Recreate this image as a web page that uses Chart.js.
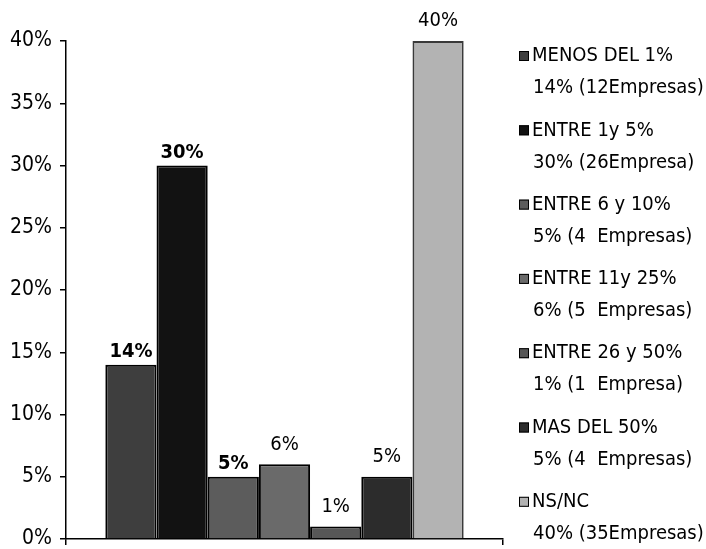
<!DOCTYPE html>
<html>
<head>
<meta charset="utf-8">
<script src="https://cdn.jsdelivr.net/npm/chart.js@4.4.0/dist/chart.umd.min.js"></script>
<style>
html,body{margin:0;padding:0;background:#fff;}
#wrap{width:706px;height:549px;position:relative;}
</style>
</head>
<body>
<div id="wrap"><canvas id="c" width="706" height="549"></canvas></div>
<script>
const categories = ["MENOS DEL 1%", "ENTRE 1y 5%", "ENTRE 6 y 10%", "ENTRE 11y 25%", "ENTRE 26 y 50%", "MAS DEL 50%", "NS/NC"];
const details = ["14% (12Empresas)", "30% (26Empresa)", "5% (4  Empresas)", "6% (5  Empresas)", "1% (1  Empresa)", "5% (4  Empresas)", "40% (35Empresas)"];
const values = [14, 30, 5, 6, 1, 5, 40];
const boldLabels = [true, true, true, false, false, false, false];
const yTicks = [0, 5, 10, 15, 20, 25, 30, 35, 40];
const colors = ["#3e3e3e", "#121212", "#5c5c5c", "#6a6a6a", "#575757", "#2c2c2c", "#b3b3b3"];

const FONT = '"Liberation Sans Narrow", "DejaVu Sans Condensed", "Arial Narrow", Arial, sans-serif';

const datasets = categories.map((c, i) => ({
  label: c,
  data: [values[i]],
  backgroundColor: colors[i],
  borderColor: i === 6 ? "#3a3a3a" : "#000",
  borderWidth: 2,
  borderSkipped: "bottom",
  barPercentage: 1,
  categoryPercentage: 0.82
}));

const labelPlugin = {
  id: "labels",
  afterDatasetsDraw(chart) {
    const ctx = chart.ctx;
    ctx.save();
    ctx.fillStyle = "#000";
    ctx.textAlign = "center";
    ctx.textBaseline = "middle";
    chart.data.datasets.forEach((ds, i) => {
      const bar = chart.getDatasetMeta(i).data[0];
      const b = boldLabels[i];
      ctx.font = (b ? "bold " : "") + "20px " + FONT;
      ctx.fillText(values[i] + "%", bar.x, bar.y - (b ? 13 : 20));
    });
    // legend
    const x0 = 519, y0 = 56, step = 74.3, lh = 32;
    ctx.textAlign = "left";
    chart.data.datasets.forEach((ds, i) => {
      const y = y0 + i * step;
      ctx.fillStyle = ds.backgroundColor;
      ctx.fillRect(x0, y - 5, 10, 10);
      ctx.strokeStyle = "#000";
      ctx.lineWidth = 1;
      ctx.strokeRect(x0 + 0.5, y - 4.5, 9, 9);
      ctx.fillStyle = "#000";
      ctx.font = "20px " + FONT;
      ctx.fillText(ds.label, x0 + 13, y);
      ctx.fillText(details[i], x0 + 14, y + lh);
    });
    ctx.restore();
  }
};

new Chart(document.getElementById("c"), {
  type: "bar",
  data: { labels: [""], datasets },
  options: {
    responsive: false,
    animation: false,
    devicePixelRatio: 1,
    layout: { padding: { top: 41, right: 203, bottom: 10, left: 0 } },
    plugins: { legend: { display: false }, tooltip: { enabled: false } },
    scales: {
      x: {
        offset: true,
        ticks: { display: false },
        grid: { drawOnChartArea: false, drawTicks: true, tickLength: 6, color: "#000", lineWidth: 1.5 },
        border: { display: true, color: "#000", width: 1.5 },
        afterFit(s) { s.height = 0; s.paddingLeft = 0; s.paddingRight = 0; s.paddingTop = 0; s.paddingBottom = 0; }
      },
      y: {
        min: 0, max: 40,
        afterBuildTicks(s) { s.ticks = yTicks.map(v => ({ value: v })); },
        ticks: { color: "#000", padding: 8, font: { family: FONT, size: 21 }, callback: v => v + "%" },
        grid: { drawOnChartArea: false, drawTicks: true, tickLength: 6, color: "#000", lineWidth: 1.5 },
        border: { display: true, color: "#000", width: 1.5 },
        afterFit(s) { s.width = 66; s.paddingTop = 0; s.paddingBottom = 0; }
      }
    }
  },
  plugins: [labelPlugin]
});
</script>
</body>
</html>
